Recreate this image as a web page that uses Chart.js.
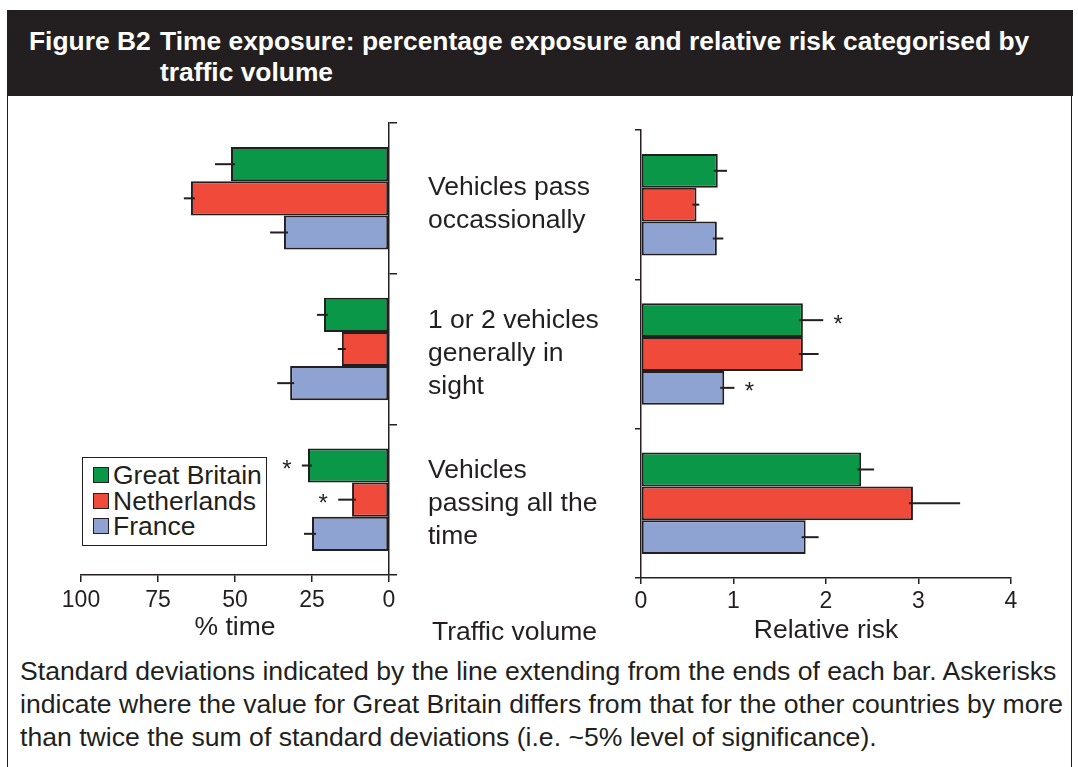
<!DOCTYPE html>
<html>
<head>
<meta charset="utf-8">
<title>Figure B2</title>
<script src="https://cdn.jsdelivr.net/npm/chart.js@4/dist/chart.umd.min.js"></script>
<style>
  body {
    margin: 0;
    width: 1078px;
    height: 767px;
    overflow: hidden;
    background: #fff;
    font-family: "Liberation Sans", Arial, sans-serif;
    color: #231f20;
    position: relative;
  }
  .frame {
    position: absolute;
    left: 7px;
    top: 10px;
    width: 1063px;
    height: 800px;
    border: 1.5px solid #231f20;
  }
  .header {
    position: absolute;
    left: 7px;
    top: 10px;
    width: 1066px;
    height: 86px;
    background: #231f20;
    color: #fff;
    font-weight: bold;
    font-size: 26.4px;
    line-height: 31px;
  }
  .header .fig {
    position: absolute;
    left: 22px;
    top: 16px;
  }
  .header .title {
    position: absolute;
    left: 153px;
    top: 16px;
    width: 910px;
    white-space: nowrap;
  }
  .chart-box {
    position: absolute;
  }
  #leftBox { left: 30px; top: 100px; width: 380px; height: 545px; }
  #rightBox { left: 418px; top: 100px; width: 640px; height: 545px; }
  .legend {
    position: absolute;
    left: 82px;
    top: 457px;
    width: 185px;
    height: 89px;
    border: 1.5px solid #231f20;
    background: #fff;
    font-size: 26.5px;
    line-height: 25.5px;
    padding-top: 5px;
    box-sizing: border-box;
    z-index: 2;
  }
  .legend div {
    position: relative;
    padding-left: 30px;
    white-space: nowrap;
  }
  .legend span {
    position: absolute;
    left: 10px;
    top: 4px;
    width: 14px;
    height: 14px;
    border: 1.5px solid #231f20;
  }
  .axis-note {
    position: absolute;
    font-size: 26.5px;
    line-height: 30px;
    white-space: nowrap;
  }
  .footer {
    position: absolute;
    left: 20px;
    top: 655px;
    width: 1058px;
    font-size: 26.6px;
    line-height: 33px;
    white-space: nowrap;
  }
</style>
</head>
<body>
<div class="frame"></div>
<div class="header">
  <div class="fig">Figure B2</div>
  <div class="title">Time exposure: percentage exposure and relative risk categorised by<br>traffic volume</div>
</div>

<div class="chart-box" id="leftBox"><canvas id="timeChart"></canvas></div>
<div class="chart-box" id="rightBox"><canvas id="riskChart"></canvas></div>
<div class="legend" id="legend"></div>
<div class="axis-note" style="left:432px; top:616px;">Traffic volume</div>

<div class="footer">Standard deviations indicated by the line extending from the ends of each bar. Askerisks<br>indicate where the value for Great Britain differs from that for the other countries by more<br>than twice the sum of standard deviations (i.e. ~5% level of significance).</div>

<script>
// Data

const categories = [
  ["Vehicles pass", "occassionally"],
  ["1 or 2 vehicles", "generally in", "sight"],
  ["Vehicles", "passing all the", "time"],
];
const countries = ["Great Britain", "Netherlands", "France"];
const colors = ["#0b9748", "#ef4a3a", "#8fa3d3"];

// % time
const timeGB = [51.3, 21.1, 26.3];
const timeNL = [64.3, 15.3, 12.0];
const timeFR = [34.1, 32.1, 25.0];
const timeSdGB = [5.2, 2.3, 2.0];
const timeSdNL = [2.3, 1.3, 4.5];
const timeSdFR = [4.5, 4.2, 2.6];
const timeStarGB = [false, false, true];
const timeStarNL = [false, false, true];
const timeStarFR = [false, false, false];
const timeTicks = [0, 25, 50, 75, 100];

// Relative risk
const riskGB = [0.83, 1.75, 2.38];
const riskNL = [0.6, 1.75, 2.94];
const riskFR = [0.82, 0.9, 1.78];
const riskSdGB = [0.1, 0.22, 0.14];
const riskSdNL = [0.03, 0.17, 0.51];
const riskSdFR = [0.07, 0.11, 0.14];
const riskStarGB = [false, true, false];
const riskStarNL = [false, false, false];
const riskStarFR = [false, true, false];
const riskTicks = [0, 1, 2, 3, 4];

const ink = "#231f20";
const family = "'Liberation Sans', Arial, sans-serif";
const numFont = { family: family, size: 23 };
const wordFont = { family: family, size: 26.5, lineHeight: 1 };

// Legend
const legend = document.getElementById("legend");
countries.forEach((name, i) => {
  const row = document.createElement("div");
  row.innerHTML = `<span style="background:${colors[i]}"></span>${name}`;
  legend.appendChild(row);
});

// Error bars + asterisks
const errorBars = {
  id: "errorBars",
  afterDatasetsDraw(chart) {
    const ctx = chart.ctx;
    const xScale = chart.scales.x;
    ctx.save();
    ctx.strokeStyle = ink;
    ctx.fillStyle = ink;
    ctx.lineWidth = 2;
    ctx.font = "24px " + family;
    ctx.textAlign = "center";
    ctx.textBaseline = "middle";
    chart.data.datasets.forEach((ds, i) => {
      const meta = chart.getDatasetMeta(i);
      meta.data.forEach((bar, j) => {
        const end = xScale.getPixelForValue(ds.data[j] + ds.sd[j]);
        const dir = end < bar.x ? -1 : 1;
        ctx.beginPath();
        ctx.moveTo(bar.x - dir * 4, bar.y);
        ctx.lineTo(end, bar.y);
        ctx.stroke();
        if (ds.stars[j]) {
          ctx.fillText("*", end + dir * 15, bar.y + 5);
        }
      });
    });
    ctx.restore();
  },
};

function makeDatasets(values, sds, stars) {
  return countries.map((name, i) => ({
    label: name,
    data: values[i],
    sd: sds[i],
    stars: stars[i],
    backgroundColor: colors[i],
    borderColor: ink,
    borderWidth: 2,
    borderSkipped: false,
    categoryPercentage: 0.68,
    barPercentage: 1.0,
  }));
}

// Left chart: % time

new Chart(document.getElementById("timeChart"), {
  type: "bar",
  data: {
    labels: categories,
    datasets: makeDatasets(
      [timeGB, timeNL, timeFR],
      [timeSdGB, timeSdNL, timeSdFR],
      [timeStarGB, timeStarNL, timeStarFR]
    ),
  },
  plugins: [errorBars],
  options: {
    indexAxis: "y",
    responsive: true,
    maintainAspectRatio: false,
    animation: false,
    layout: { padding: { left: 51, right: 0, top: 23, bottom: 0 } },
    plugins: { legend: { display: false }, tooltip: { enabled: false } },
    scales: {
      x: {
        type: "linear",
        reverse: true,
        min: 0,
        max: 100,
        afterBuildTicks: (scale) => {
          scale.ticks = timeTicks.map((v) => ({ value: v }));
        },
        afterFit: (scale) => {
          scale.height = 70;
        },
        ticks: { color: ink, font: numFont, padding: 5, maxRotation: 0 },
        grid: { drawOnChartArea: false, color: ink, lineWidth: 1.5, tickLength: 7 },
        border: { color: ink, width: 1.5 },
        title: { display: true, text: "% time", color: ink, font: wordFont, padding: { top: 0, bottom: 4 } },
      },
      y: {
        position: "right",
        afterFit: (scale) => {
          scale.width = 21;
          scale.paddingTop = 0;
          scale.paddingBottom = 0;
        },
        ticks: { display: false },
        grid: { offset: true, drawOnChartArea: false, color: ink, lineWidth: 1.5, tickLength: 8 },
        border: { color: ink, width: 1.5 },
      },
    },
  },
});

// Right chart: relative risk

new Chart(document.getElementById("riskChart"), {
  type: "bar",
  data: {
    labels: categories,
    datasets: makeDatasets(
      [riskGB, riskNL, riskFR],
      [riskSdGB, riskSdNL, riskSdFR],
      [riskStarGB, riskStarNL, riskStarFR]
    ),
  },
  plugins: [errorBars],
  options: {
    indexAxis: "y",
    responsive: true,
    maintainAspectRatio: false,
    animation: false,
    layout: { padding: { left: 10, right: 47, top: 30, bottom: 0 } },
    plugins: { legend: { display: false }, tooltip: { enabled: false } },
    scales: {
      x: {
        type: "linear",
        min: 0,
        max: 4,
        afterBuildTicks: (scale) => {
          scale.ticks = riskTicks.map((v) => ({ value: v }));
        },
        afterFit: (scale) => {
          scale.height = 67;
        },
        ticks: { color: ink, font: numFont, padding: 4, maxRotation: 0 },
        grid: { drawOnChartArea: false, color: ink, lineWidth: 1.5, tickLength: 6 },
        border: { color: ink, width: 1.5 },
        title: { display: true, text: "Relative risk", color: ink, font: wordFont, padding: { top: 0, bottom: 1 } },
      },
      y: {
        position: "left",
        afterFit: (scale) => {
          scale.width = 213;
          scale.paddingTop = 0;
          scale.paddingBottom = 0;
        },
        ticks: {
          color: ink,
          crossAlign: "far",
          font: { family: family, size: 26.5, lineHeight: 1.245 },
        },
        grid: { offset: true, drawOnChartArea: false, color: ink, lineWidth: 1.5, tickLength: 6 },
        border: { color: ink, width: 1.5 },
      },
    },
  },
});
</script>
</body>
</html>
